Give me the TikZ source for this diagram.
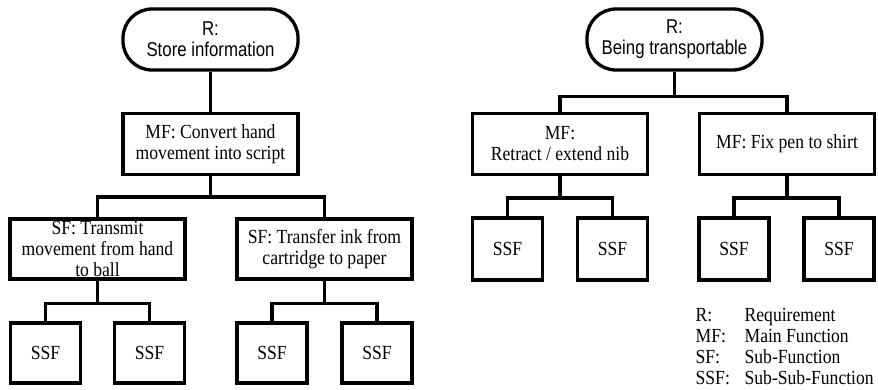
\documentclass[tikz,border=0pt]{standalone}
\usepackage{fontspec}
\setmainfont[FakeStretch=0.88]{Liberation Serif}
\newfontfamily\ovalfont[FakeStretch=0.84]{Liberation Sans}
\usetikzlibrary{positioning}

\begin{document}
\begin{tikzpicture}[x=1pt, y=-1pt, line width=3.3pt,
  reqbox/.style={draw, rounded corners=29pt, minimum width=175pt, minimum height=61pt,
    align=center, inner sep=2pt, font=\ovalfont\fontsize{20}{21}\selectfont},
  fbox/.style={draw, minimum width=175pt, minimum height=61pt, align=center, inner sep=2pt,
    font=\fontsize{20}{21}\selectfont},
  ssfbox/.style={draw, minimum width=70pt, minimum height=60pt, inner sep=2pt,
    font=\fontsize{20}{21}\selectfont}]
\useasboundingbox (0,0) rectangle (878,390);

% left tree
\node[reqbox] (r1) at (210.5,39.5) {R:\\Store information};
\node[fbox] (mf1) at (210.5,144) {MF: Convert hand\\movement into script};
\node[fbox, minimum height=60pt] (sf1) at (97.5,249) {};
\node[align=center, inner sep=0pt, font=\fontsize{20}{21}\selectfont] (sf1txt) at (sf1)
  {SF: Transmit\\movement from hand\\to ball};
\node[fbox, minimum height=60pt] (sf2) at (324.5,249) {SF: Transfer ink from\\cartridge to paper};
\node[ssfbox] (ssf1) at (45.5,353) {SSF};
\node[ssfbox] (ssf2) at (149.5,353) {SSF};
\node[ssfbox] (ssf3) at (272,353) {SSF};
\node[ssfbox] (ssf4) at (377,353) {SSF};

\draw (r1) -- (mf1);
\draw (mf1.south) -- ++(0,21) -| (sf1.north);
\draw (mf1.south) -- ++(0,21) -| (sf2.north);
\draw (sf1.south) -- ++(0,23) -| (ssf1.north);
\draw (sf1.south) -- ++(0,23) -| (ssf2.north);
\draw (sf2.south) -- ++(0,23) -| (ssf3.north);
\draw (sf2.south) -- ++(0,23) -| (ssf4.north);

% right tree
\node[reqbox] (r2) at (674.5,39.5) {R:\\Being transportable};
\node[fbox] (mf2) at (560,144) {MF:\\Retract / extend nib};
\node[fbox] (mf3) at (787,144) {MF: Fix pen to shirt};
\node[ssfbox, minimum height=62pt] (ssf5) at (507.5,249) {SSF};
\node[ssfbox, minimum height=62pt] (ssf6) at (612.5,249) {SSF};
\node[ssfbox, minimum height=62pt] (ssf7) at (734,249) {SSF};
\node[ssfbox, minimum height=62pt] (ssf8) at (839,249) {SSF};

\draw (r2.south) -- ++(0,25) -| (mf2.north);
\draw (r2.south) -- ++(0,25) -| (mf3.north);
\draw (mf2.south) -- ++(0,22) -| (ssf5.north);
\draw (mf2.south) -- ++(0,22) -| (ssf6.north);
\draw (mf3.south) -- ++(0,22) -| (ssf7.north);
\draw (mf3.south) -- ++(0,22) -| (ssf8.north);

% legend
\node[anchor=north west, inner sep=0pt, font=\fontsize{20}{21}\selectfont] (legend) at (694,305.5)
  {\begin{tabular}{@{}p{49pt}@{}l@{}}
   R: & Requirement\\
   MF: & Main Function\\
   SF: & Sub-Function\\
   SSF: & Sub-Sub-Function
   \end{tabular}};
\end{tikzpicture}
\end{document}
